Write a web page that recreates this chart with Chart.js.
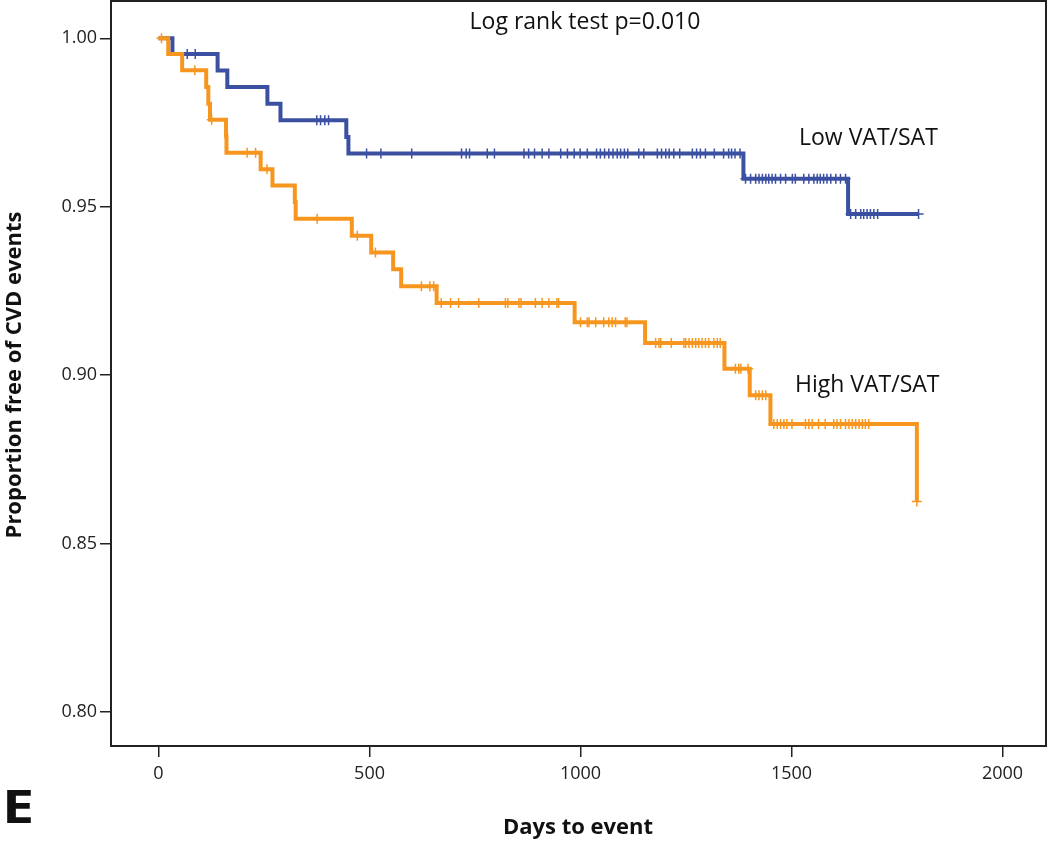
<!DOCTYPE html>
<html>
<head>
<meta charset="utf-8">
<script src="https://cdn.jsdelivr.net/npm/chart.js@4/dist/chart.umd.min.js"></script>
<style>
  body { margin: 0; background: #fff; }
  canvas { display: block; }
</style>
</head>
<body>
<canvas id="kmChart" width="1050" height="842"></canvas>
<script>
const xTicks = [0, 500, 1000, 1500, 2000];
const yTicks = [0.80, 0.85, 0.90, 0.95, 1.00];

// Low VAT/SAT group: event days and survival after each step
const lowEventDays = [0, 33, 140, 163, 258, 289, 445, 450, 1386, 1634, 1801];
const lowSurvival = [1.0, 0.9953, 0.9904, 0.9855, 0.9806, 0.9757, 0.9707, 0.9658, 0.9583, 0.9478, 0.9478];
const lowCensorDays = [68, 87, 375, 384, 394, 403, 493, 527, 600, 718, 729, 737, 779, 796, 866, 877, 891, 909, 925,
  953, 969, 985, 999, 1016, 1038, 1047, 1057, 1067, 1077, 1087, 1095, 1104, 1112, 1138, 1150, 1182, 1192, 1202,
  1210, 1221, 1235, 1265, 1275, 1284, 1296, 1317, 1339, 1351, 1358, 1366, 1378,
  1391, 1403, 1415, 1423, 1431, 1439, 1446, 1454, 1462, 1474, 1486, 1502, 1509, 1529, 1541, 1553, 1561, 1568,
  1576, 1584, 1593, 1605, 1616, 1628, 1640, 1652, 1664, 1671, 1679, 1687, 1695, 1704, 1801];

// High VAT/SAT group
const highEventDays = [0, 23, 56, 113, 118, 122, 160, 161, 242, 270, 323, 325, 458, 504, 556, 575, 659, 986, 1153, 1341, 1401, 1450, 1797];
const highSurvival = [1.0, 0.9953, 0.9905, 0.9855, 0.9806, 0.9758, 0.9709, 0.9660, 0.9611, 0.9563, 0.9514, 0.9464,
  0.9414, 0.9364, 0.9314, 0.9264, 0.9214, 0.9157, 0.9095, 0.9019, 0.8940, 0.8855, 0.8625];
const highCensorDays = [7, 86, 126, 210, 230, 257, 376, 471, 514, 623, 643, 652, 670, 692, 711, 759, 822, 828, 854,
  859, 893, 909, 925, 944, 948, 1000, 1016, 1020, 1036, 1055, 1067, 1075, 1083, 1106, 1110, 1178, 1186, 1190, 1215,
  1245, 1249, 1257, 1265, 1273, 1280, 1288, 1296, 1304, 1316, 1324, 1331, 1367, 1375, 1380, 1397, 1415, 1423, 1431,
  1439, 1458, 1466, 1474, 1482, 1489, 1501, 1533, 1541, 1549, 1564, 1580, 1600, 1608, 1616, 1628, 1636, 1644, 1652,
  1660, 1668, 1675, 1683, 1797];

const blue = '#3C50A2';
const orange = '#F7961F';
const font = "'Open Sans', sans-serif";

function survAt(days, surv, t) {
    let v = surv[0];
    for (let i = 0; i < days.length; i++) {
        if (days[i] <= t) v = surv[i];
    }
    return v;
}

function curve(days, surv) {
    return days.map((d, i) => ({ x: d, y: surv[i] }));
}

function censors(cDays, days, surv) {
    return cDays.map(d => ({ x: d, y: survAt(days, surv, d) }));
}

// frame round the plot area plus the free text
const textPlugin = {
    id: 'textPlugin',
    afterDraw(chart) {
        const c = chart.ctx;
        const a = chart.chartArea;
        c.save();
        c.strokeStyle = '#222';
        c.lineWidth = 2;
        c.strokeRect(a.left, a.top, a.right - a.left, a.bottom - a.top);

        c.fillStyle = '#111';
        c.textBaseline = 'middle';
        c.font = '23px ' + font;
        c.textAlign = 'center';
        c.fillText('Log rank test p=0.010', 585, 22);
        c.textAlign = 'left';
        c.fillText('Low VAT/SAT', 799, 138);
        c.fillText('High VAT/SAT', 795, 385);

        c.font = 'bold 22px ' + font;
        c.textAlign = 'center';
        c.fillText('Days to event', 578, 828);

        // panel letter, a bit wider than the font
        c.save();
        c.translate(2, 810);
        c.scale(1.25, 1);
        c.font = 'bold 46px ' + font;
        c.textAlign = 'left';
        c.fillText('E', 0, 0);
        c.restore();

        c.translate(15, 375);
        c.rotate(-Math.PI / 2);
        c.font = 'bold 22px ' + font;
        c.textAlign = 'center';
        c.fillText('Proportion free of CVD events', 0, 0);
        c.restore();
    }
};

const ctx = document.getElementById('kmChart');
new Chart(ctx, {
    type: 'scatter',
    data: {
        datasets: [
            {
                label: 'Low VAT/SAT',
                data: curve(lowEventDays, lowSurvival),
                showLine: true,
                stepped: 'before',
                borderColor: blue,
                borderWidth: 4,
                pointRadius: 0,
                borderJoinStyle: 'miter',
                order: 4
            },
            {
                label: 'Low censored',
                data: censors(lowCensorDays, lowEventDays, lowSurvival),
                showLine: false,
                pointStyle: 'cross',
                pointRadius: 5,
                borderColor: blue,
                borderWidth: 1.5,
                order: 3
            },
            {
                label: 'High VAT/SAT',
                data: curve(highEventDays, highSurvival),
                showLine: true,
                stepped: 'before',
                borderColor: orange,
                borderWidth: 4,
                pointRadius: 0,
                borderJoinStyle: 'miter',
                order: 2
            },
            {
                label: 'High censored',
                data: censors(highCensorDays, highEventDays, highSurvival),
                showLine: false,
                pointStyle: 'cross',
                pointRadius: 5,
                borderColor: orange,
                borderWidth: 1.5,
                order: 1
            }
        ]
    },
    options: {
        responsive: false,
        animation: false,
        layout: { autoPadding: false, padding: { top: 1, right: 4, left: 0, bottom: 0 } },
        plugins: {
            legend: { display: false },
            tooltip: { enabled: false }
        },
        scales: {
            x: {
                type: 'linear',
                min: -112.6,
                max: 2103,
                afterFit(scale) {
                    scale.height = 96;
                    scale.paddingLeft = 0;
                    scale.paddingRight = 0;
                },
                afterBuildTicks(scale) { scale.ticks = xTicks.map(v => ({ value: v })); },
                grid: { drawOnChartArea: false, color: '#222', lineWidth: 1.5, tickLength: 11 },
                border: { color: '#222', width: 2 },
                ticks: {
                    color: '#222',
                    padding: 6,
                    maxRotation: 0,
                    font: { family: font, size: 18 },
                    callback: function(v) { return String(v); }
                }
            },
            y: {
                type: 'linear',
                min: 0.78988,
                max: 1.01107,
                afterFit(scale) {
                    scale.width = 111;
                    scale.paddingTop = 0;
                    scale.paddingBottom = 0;
                },
                afterBuildTicks(scale) { scale.ticks = yTicks.map(v => ({ value: v })); },
                grid: { drawOnChartArea: false, color: '#222', lineWidth: 1.5, tickLength: 11 },
                border: { color: '#222', width: 2 },
                ticks: {
                    color: '#222',
                    padding: 3,
                    font: { family: font, size: 18 },
                    callback: function(v) { return Number(v).toFixed(2); }
                }
            }
        }
    },
    plugins: [textPlugin]
});
</script>
</body>
</html>
